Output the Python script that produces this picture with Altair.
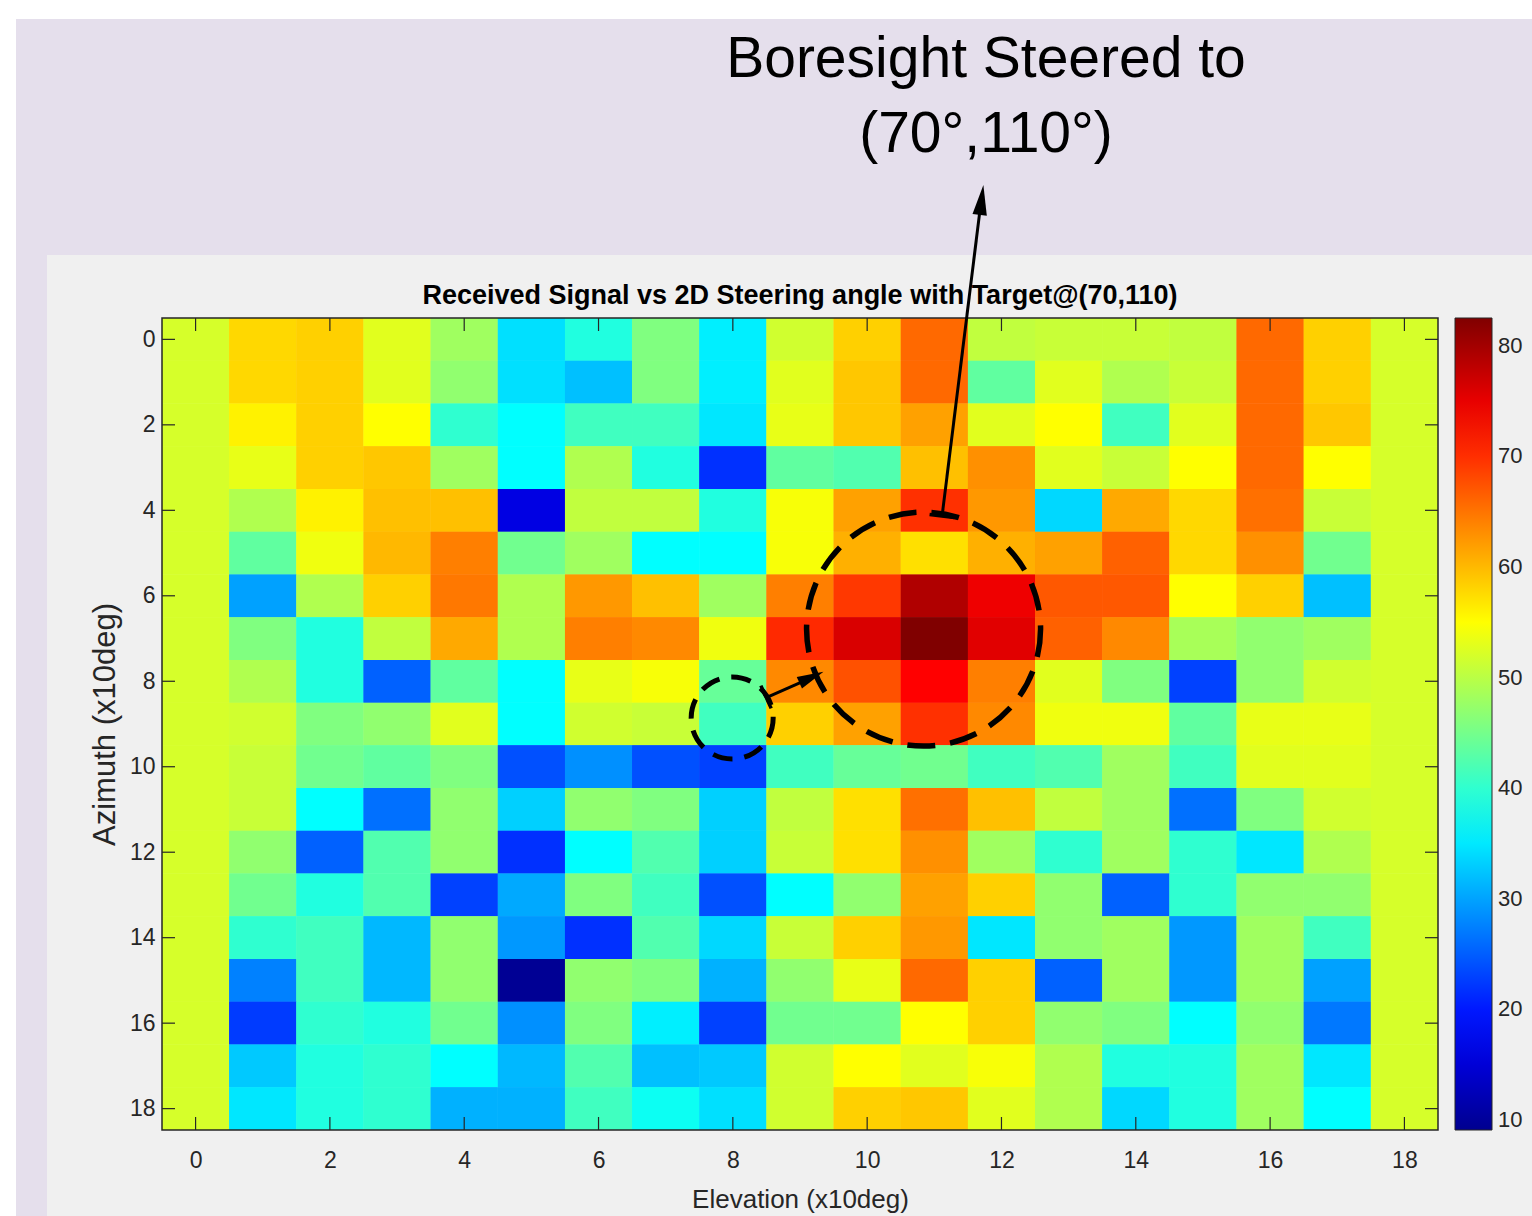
import altair as alt
import pandas as pd

# ---------------- data ----------------
tick_values = list(range(0, 19, 2))
bar_values = [10, 20, 30, 40, 50, 60, 70, 80]

# one list per azimuth row (0..18), elevation columns 0..18
az_00 = [52, 57.8, 58.4, 52.8, 48.1, 34.4, 38.9, 45.8, 35.5, 51.6, 58.4, 65.8, 50.5, 51.0, 51.0, 50.5, 65.8, 58.4, 52]
az_01 = [52, 57.8, 58.4, 52.8, 47.0, 34.4, 32.1, 45.8, 35.5, 52.8, 59.0, 65.8, 43.5, 52.8, 49.3, 51.0, 65.8, 58.4, 52]
az_02 = [52, 55.9, 58.4, 55.0, 40.0, 36.6, 41.2, 41.2, 34.9, 53.3, 59.0, 61.8, 52.8, 55.0, 41.2, 52.8, 65.8, 59.0, 52]
az_03 = [52, 53.3, 58.4, 59.0, 48.1, 36.6, 49.3, 38.9, 21.7, 43.5, 42.4, 59.5, 63.0, 52.8, 51.0, 55.0, 65.8, 55.0, 52]
az_04 = [52, 49.3, 55.9, 59.5, 59.5, 16.0, 50.5, 50.5, 38.9, 54.5, 61.8, 69.9, 62.4, 33.8, 61.2, 57.8, 65.3, 51.0, 52]
az_05 = [52, 43.5, 53.9, 60.1, 64.2, 44.7, 48.1, 36.6, 36.6, 54.5, 60.7, 57.2, 60.7, 61.8, 66.4, 57.8, 63.0, 44.7, 52]
az_06 = [52, 29.8, 49.3, 58.4, 64.7, 49.3, 62.4, 59.5, 48.1, 64.2, 69.3, 79.0, 74.5, 67.0, 67.0, 55.0, 58.4, 32.1, 52]
az_07 = [52, 45.8, 38.9, 50.5, 61.2, 49.3, 64.2, 63.5, 53.9, 70.4, 76.1, 82.5, 75.5, 66.4, 63.5, 48.7, 47.0, 48.1, 52]
az_08 = [52, 49.3, 38.9, 25.2, 43.5, 36.6, 53.3, 54.5, 44.0, 63.5, 67.5, 73.3, 64.2, 52.8, 45.8, 22.9, 47.0, 51.6, 52]
az_09 = [52, 51.6, 45.8, 47.0, 52.8, 36.6, 51.6, 51.0, 41.2, 58.4, 61.8, 69.9, 63.5, 53.9, 53.9, 43.5, 53.3, 53.3, 52]
az_10 = [52, 51.0, 44.7, 43.5, 45.8, 24.0, 28.6, 24.0, 22.9, 41.2, 44.0, 44.7, 41.2, 42.4, 48.1, 41.2, 52.8, 52.8, 52]
az_11 = [52, 51.0, 36.6, 26.3, 47.0, 33.2, 47.0, 45.8, 33.2, 50.5, 57.2, 65.3, 59.5, 50.5, 48.1, 26.3, 45.8, 51.6, 52]
az_12 = [52, 47.0, 25.2, 42.4, 47.0, 21.7, 36.6, 42.4, 33.2, 51.0, 57.2, 63.0, 48.1, 40.0, 48.1, 40.0, 34.9, 49.3, 52]
az_13 = [52, 44.7, 38.9, 42.4, 22.9, 30.4, 45.8, 41.2, 24.0, 36.6, 47.0, 61.8, 58.4, 47.0, 25.2, 40.0, 47.0, 47.0, 52]
az_14 = [52, 40.0, 41.2, 31.5, 47.0, 29.2, 21.7, 42.4, 33.8, 51.0, 58.4, 62.4, 34.9, 47.0, 48.1, 29.2, 48.1, 41.2, 52]
az_15 = [52, 27.5, 41.2, 31.5, 47.0, 9.5, 47.0, 45.8, 31.0, 47.0, 53.3, 65.8, 58.4, 25.2, 48.1, 29.2, 48.1, 29.8, 52]
az_16 = [52, 22.5, 40.0, 38.9, 44.7, 28.6, 45.8, 35.5, 22.9, 44.7, 44.7, 55.0, 58.4, 47.0, 45.8, 36.6, 47.0, 26.9, 52]
az_17 = [52, 32.7, 38.9, 40.0, 36.6, 31.5, 42.4, 32.1, 32.7, 51.6, 55.0, 52.8, 54.5, 49.3, 38.9, 38.9, 48.1, 34.9, 52]
az_18 = [52, 34.9, 38.9, 40.0, 31.0, 31.0, 41.2, 37.5, 34.4, 51.6, 58.4, 59.0, 52.8, 49.3, 33.8, 38.9, 48.1, 36.6, 52]

rows = [az_00, az_01, az_02, az_03, az_04, az_05, az_06, az_07, az_08, az_09,
        az_10, az_11, az_12, az_13, az_14, az_15, az_16, az_17, az_18]

records = []
for a, row in enumerate(rows):
    for e, v in enumerate(row):
        records.append({"x0": e - 0.5, "x1": e + 0.5, "y0": a - 0.5, "y1": a + 0.5, "v": v})
df = pd.DataFrame(records)

# annotation geometry (in data units)
big_circle = {"cx": [10.84], "cy": [6.78]}
small_circle = {"cx": [7.99], "cy": [8.86]}
arrow_lines = {"ax": [11.114, 8.523], "ay": [4.156, 8.368], "bx": [11.680, 9.030], "by": [-3.027, 8.017]}
main_head = {"cx": [11.703], "cy": [-3.263]}
small_head = {"cx": [9.170], "cy": [7.907]}
main_tbar = {"cx": [11.114], "cy": [4.133]}
small_tbar = {"cx": [8.494], "cy": [8.368]}

# ---------------- styling ----------------
W, H = 1276, 812
FONT = "Liberation Sans"
AX = "#262626"
jet_stops = [9.1, 18.275, 27.45, 36.625, 45.8, 54.975, 64.15, 73.325, 82.5]
jet_colors = ["#00008f", "#0000ff", "#0080ff", "#00ffff", "#80ff80",
              "#ffff00", "#ff8000", "#ff0000", "#800000"]

xs = alt.Scale(domain=[-0.5, 18.5], nice=False, zero=False)
ys = alt.Scale(domain=[-0.5, 18.5], nice=False, zero=False, reverse=True)
xaxis = alt.Axis(values=tick_values, grid=False, ticks=False, domain=False,
                 labelFontSize=23, labelColor=AX, labelFont=FONT, labelPadding=19,
                 titleFontSize=26, titleFont=FONT, titleColor=AX, titleFontWeight="normal",
                 titlePadding=14, zindex=1, labelAngle=0)
yaxis = alt.Axis(values=tick_values, grid=False, ticks=False, domain=False,
                 labelFontSize=23, labelColor=AX, labelFont=FONT, labelPadding=7,
                 titleFontSize=31, titleFont=FONT, titleColor=AX, titleFontWeight="normal",
                 titlePadding=8, zindex=1)


def X(field):
    return alt.X(f"{field}:Q", scale=xs, axis=xaxis, title="Elevation (x10deg)")


def Y(field):
    return alt.Y(f"{field}:Q", scale=ys, axis=yaxis, title="Azimuth (x10deg)")


one = alt.Data(values=[{"k": 1}])

# ---------------- backgrounds ----------------
bg_lav = alt.Chart(one).mark_rect(color="#e5dfec").encode(
    x=alt.value(16 - 162), x2=alt.value(1532 - 162),
    y=alt.value(19 - 318), y2=alt.value(1216 - 318))
bg_gray = alt.Chart(one).mark_rect(color="#f0f0f0").encode(
    x=alt.value(47 - 162), x2=alt.value(1532 - 162),
    y=alt.value(255 - 318), y2=alt.value(1216 - 318))

# ---------------- heatmap ----------------
jet = alt.Scale(domain=jet_stops, range=jet_colors, interpolate="rgb")
legend = alt.Legend(orient="none", legendX=1293, legendY=0, direction="vertical",
                    gradientLength=H, gradientThickness=37, values=bar_values,
                    labelFontSize=22, labelColor=AX, labelFont=FONT, labelOffset=6,
                    gradientStrokeColor=AX, gradientStrokeWidth=1, title="")
heat = alt.Chart(df).mark_rect().encode(
    x=X("x0"), x2="x1:Q", y=Y("y0"), y2="y1:Q",
    color=alt.Color("v:Q", scale=jet, legend=legend),
)

# ---------------- ticks and frame ----------------
tdf = pd.DataFrame({"t": tick_values})
TL = 13
tick_b = alt.Chart(tdf).mark_rule(color=AX, strokeWidth=1.2).encode(x=X("t"), y=alt.value(H), y2=alt.value(H - TL))
tick_t = alt.Chart(tdf).mark_rule(color=AX, strokeWidth=1.2).encode(x=X("t"), y=alt.value(0), y2=alt.value(TL))
tick_l = alt.Chart(tdf).mark_rule(color=AX, strokeWidth=1.2).encode(y=Y("t"), x=alt.value(0), x2=alt.value(TL))
tick_r = alt.Chart(tdf).mark_rule(color=AX, strokeWidth=1.2).encode(y=Y("t"), x=alt.value(W), x2=alt.value(W - TL))
frame = alt.Chart(one).mark_rect(fillOpacity=0, stroke=AX, strokeWidth=1.5).encode(
    x=alt.value(0), x2=alt.value(W), y=alt.value(0), y2=alt.value(H))

# ---------------- annotations ----------------
circ_big = alt.Chart(pd.DataFrame(big_circle)).mark_point(
    shape="circle", filled=False, color="black", opacity=1, size=54756,
    strokeWidth=5.5, strokeDash=[28, 15]).encode(x=X("cx"), y=Y("cy"))
circ_small = alt.Chart(pd.DataFrame(small_circle)).mark_point(
    shape="circle", filled=False, color="black", opacity=1, size=6724,
    strokeWidth=5, strokeDash=[20, 12]).encode(x=X("cx"), y=Y("cy"))
lines = alt.Chart(pd.DataFrame(arrow_lines)).mark_rule(color="black", strokeWidth=3).encode(
    x=X("ax"), y=Y("ay"), x2="bx:Q", y2="by:Q")
HEAD = "M0,-1L0.48,1L-0.48,1Z"
BAR = "M-1,0L1,0"
head_main = alt.Chart(pd.DataFrame(main_head)).mark_point(
    shape=HEAD, filled=True, color="black", opacity=1, size=900, angle=7.1, strokeWidth=0
).encode(x=X("cx"), y=Y("cy"))
head_small = alt.Chart(pd.DataFrame(small_head)).mark_point(
    shape=HEAD, filled=True, color="black", opacity=1, size=700, angle=65.7, strokeWidth=0
).encode(x=X("cx"), y=Y("cy"))
tbar_main = alt.Chart(pd.DataFrame(main_tbar)).mark_point(
    shape=BAR, filled=False, color="black", opacity=1, size=625, angle=7.1, strokeWidth=3.5
).encode(x=X("cx"), y=Y("cy"))
tbar_small = alt.Chart(pd.DataFrame(small_tbar)).mark_point(
    shape=BAR, filled=False, color="black", opacity=1, size=625, angle=65.7, strokeWidth=3.5
).encode(x=X("cx"), y=Y("cy"))

# ---------------- texts ----------------
plot_title = alt.Chart(one).mark_text(
    text="Received Signal vs 2D Steering angle with Target@(70,110)", font=FONT, fontSize=27,
    fontWeight="bold", color="black", align="center", baseline="alphabetic").encode(
    x=alt.value(W / 2), y=alt.value(-14))
head1 = alt.Chart(one).mark_text(text="Boresight Steered to", font=FONT, fontSize=57,
                                 color="black", align="center", baseline="alphabetic").encode(
    x=alt.value(986 - 162), y=alt.value(77 - 318))
head2 = alt.Chart(one).mark_text(text="(70\u00b0,110\u00b0)", font=FONT, fontSize=57,
                                 color="black", align="center", baseline="alphabetic").encode(
    x=alt.value(986 - 162), y=alt.value(152 - 318))

chart = alt.layer(
    bg_lav, bg_gray, heat, heat, tick_b, tick_t, tick_l, tick_r, frame,
    plot_title, head1, head2,
    circ_big, circ_small, lines, head_main, head_small, tbar_main, tbar_small,
).properties(
    width=W, height=H,
    padding={"left": 162, "top": 318, "right": 1532 - 162 - W, "bottom": 1216 - 318 - H},
    autosize=alt.AutoSizeParams(type="none"),
).configure(background="white").configure_view(stroke=None)

chart.save("out.html", embed_options={"renderer": "svg", "actions": False})
